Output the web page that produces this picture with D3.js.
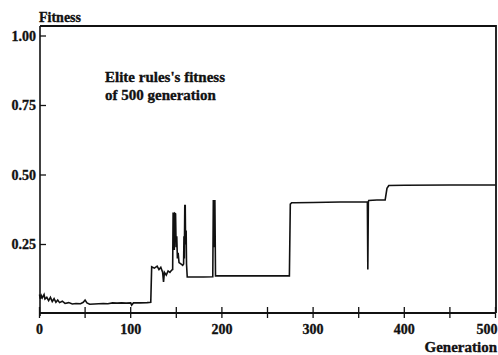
<!DOCTYPE html>
<html lang="en">
  <head>
    <meta charset="utf-8">
    <title>Elite fitness</title>
    <script src="https://d3js.org/d3.v7.min.js"></script>
    <style>
      body { margin: 0; background: #fff; }
      text { font-family: "Liberation Serif", "Times New Roman", serif; font-weight: bold; fill: #111; stroke: #111; stroke-width: 0.35px; }
    </style>
  </head>
  <body>
    <div id="chart"></div>
    <script>
      // generation numbers of the points
      var generations = [
        0, 1, 2, 3, 5, 6, 8, 10, 12, 14, 16, 18, 20, 22, 25, 28, 32, 36, 40, 45,
        48, 50, 52, 55, 60, 70, 75, 80, 85, 90, 95, 100, 101, 103, 110, 118, 122,
        123, 126, 129, 131, 133, 135, 136, 137, 139, 141, 143, 145, 146,
        146.5, 147.3, 147.8, 148.4, 149.2, 149.8, 150.5, 151.2, 152, 153, 155, 157,
        158, 158.4, 158.8, 159.3, 159.8, 160.2, 160.8, 161.2, 162,
        170, 180, 190, 190.6, 191, 191.4, 191.8, 192.3, 193, 210, 240, 260, 274,
        275, 276.5, 280, 300, 330, 359.5, 360, 360.6, 361, 370, 379, 381, 383, 400, 450, 500
      ];
      // elite fitness at those generations
      var fitness = [
        0.070, 0.055, 0.066, 0.058, 0.070, 0.054, 0.060, 0.048, 0.060, 0.045, 0.055, 0.042, 0.050, 0.041, 0.046, 0.038, 0.041, 0.036, 0.038, 0.037,
        0.042, 0.050, 0.040, 0.035, 0.036, 0.038, 0.037, 0.040, 0.039, 0.040, 0.039, 0.040, 0.032, 0.040, 0.040, 0.041, 0.042,
        0.170, 0.165, 0.172, 0.160, 0.168, 0.150, 0.115, 0.150, 0.140, 0.155, 0.150, 0.158, 0.160,
        0.362, 0.362, 0.230, 0.362, 0.360, 0.240, 0.280, 0.200, 0.220, 0.185, 0.180, 0.175,
        0.180, 0.280, 0.200, 0.390, 0.390, 0.250, 0.300, 0.180, 0.133,
        0.133, 0.133, 0.134, 0.410, 0.240, 0.410, 0.260, 0.410, 0.137, 0.137, 0.137, 0.137, 0.137,
        0.395, 0.400, 0.400, 0.401, 0.403, 0.404, 0.160, 0.404, 0.408, 0.410, 0.410, 0.452, 0.462, 0.463, 0.464, 0.464
      ];
      var xTicks = [0, 50, 100, 150, 200, 250, 300, 350, 400, 450, 500];
      var xLabels = [0, 100, 200, 300, 400, 500];
      var yTicks = [0.25, 0.5, 0.75, 1.0];

      var W = 498, H = 355;
      var plot = {left: 40, right: 496, top: 26, bottom: 313};

      var svg = d3.select("#chart").append("svg")
        .attr("width", W)
        .attr("height", H);

      var x = d3.scaleLinear().domain([0, 500]).range([39.5, 495.5]);
      var y = d3.scaleLinear().domain([0, 1]).range([314, 36]);

      var ink = "#111";

      // frame: top and right edges
      svg.append("path")
        .attr("d", "M" + plot.left + "," + plot.top + "H" + plot.right + "V" + plot.bottom)
        .attr("fill", "none")
        .attr("stroke", ink)
        .attr("stroke-width", 1.8);

      // y axis, ticks pointing inside
      var yAxis = svg.append("g")
        .attr("transform", "translate(" + plot.left + ",0)");
      yAxis.append("line")
        .attr("y1", plot.top).attr("y2", plot.bottom + 3)
        .attr("stroke", ink).attr("stroke-width", 1.6);
      yAxis.selectAll(".ytick").data(yTicks).enter().append("line")
        .attr("x1", 0).attr("x2", 6)
        .attr("y1", function(d) { return y(d); })
        .attr("y2", function(d) { return y(d); })
        .attr("stroke", ink).attr("stroke-width", 1.3);
      yAxis.selectAll(".ylab").data(yTicks).enter().append("text")
        .attr("x", -4)
        .attr("y", function(d) { return y(d); })
        .attr("dy", "0.35em")
        .attr("text-anchor", "end")
        .style("font-size", "14px")
        .text(function(d) { return d3.format(".2f")(d); });

      // x axis, ticks crossing the line
      var xAxis = svg.append("g")
        .attr("transform", "translate(0," + plot.bottom + ")");
      xAxis.append("line")
        .attr("x1", plot.left - 1).attr("x2", plot.right)
        .attr("stroke", ink).attr("stroke-width", 1.8);
      xAxis.selectAll(".xtick").data(xTicks).enter().append("line")
        .attr("x1", function(d) { return x(d); })
        .attr("x2", function(d) { return x(d); })
        .attr("y1", -6).attr("y2", 5)
        .attr("stroke", ink).attr("stroke-width", 1.3);
      xAxis.selectAll(".xlab").data(xLabels).enter().append("text")
        .attr("x", function(d) { return d === 500 ? x(d) + 2 : x(d); })
        .attr("y", 21)
        .attr("text-anchor", function(d) { return d === 500 ? "end" : "middle"; })
        .style("font-size", "14px")
        .text(function(d) { return d; });

      // axis titles
      svg.append("text")
        .attr("x", 39).attr("y", 22)
        .style("font-size", "14px")
        .text("Fitness");
      svg.append("text")
        .attr("x", 497).attr("y", 352)
        .attr("text-anchor", "end")
        .style("font-size", "15px")
        .text("Generation");

      // annotation
      var note = svg.append("text")
        .attr("x", 105).attr("y", 82)
        .style("font-size", "15px");
      note.append("tspan").attr("x", 105).text("Elite rules's fitness");
      note.append("tspan").attr("x", 105).attr("dy", 18).text("of 500 generation");

      // fitness curve
      var points = generations.map(function(g, i) { return [g, fitness[i]]; });
      var line = d3.line()
        .x(function(d) { return x(d[0]); })
        .y(function(d) { return y(d[1]); });
      svg.append("path")
        .datum(points)
        .attr("d", line)
        .attr("fill", "none")
        .attr("stroke", ink)
        .attr("stroke-width", 1.6)
        .attr("stroke-linejoin", "miter");
    </script>
  </body>
</html>
